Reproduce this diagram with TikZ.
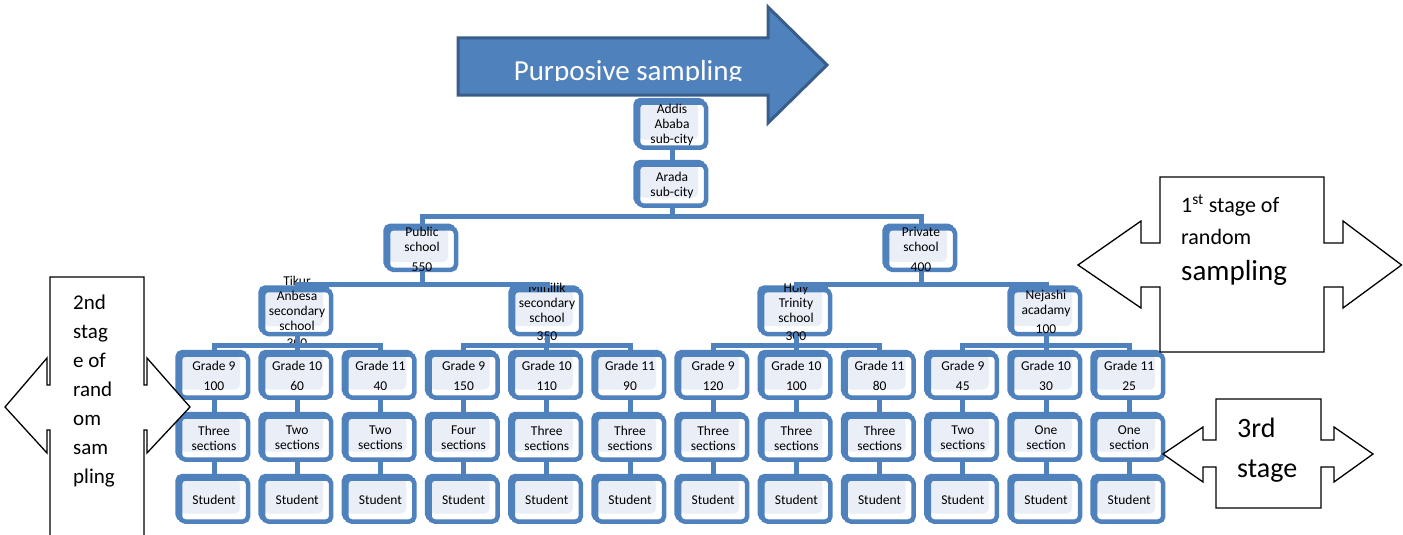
\documentclass[tikz,border=0pt]{standalone}
\usepackage{fontspec}
\setmainfont{Carlito}
\usetikzlibrary{positioning}
\definecolor{boxblue}{HTML}{4F81BD}
\definecolor{boxfill}{HTML}{E9EEF7}
\definecolor{arrowedge}{HTML}{385D8A}

\begin{document}
\begin{tikzpicture}[x=1pt, y=-1pt, node distance=14.5pt,
  unit/.style={draw=boxblue, line width=4.5pt, rounded corners=5pt, fill=white,
    minimum width=68pt, minimum height=43pt, inner sep=0pt,
    preaction={draw=boxblue, fill=boxblue, transform canvas={shift={(-2.5pt,2.5pt)}}},
    path picture={\fill[boxfill] (path picture bounding box.north west)
      rectangle ([xshift=-8pt,yshift=8pt]path picture bounding box.south east);}},
  lbl/.style={font=\fontsize{13.5}{15}\selectfont, align=center, inner sep=0pt},
  link/.style={draw=boxblue, line width=5pt},
  callout/.style={draw=black, line width=1.3pt, fill=white, line join=miter},
  stagetxt/.style={inner sep=0pt, anchor=base west}]
\useasboundingbox (0,0) rectangle (1403,535);

% purposive sampling arrow
\draw[fill=boxblue, draw=arrowedge, line width=3pt, line join=miter]
  (458,38) -- (768,38) -- (768,7) -- (827,65) -- (768,123) -- (768,95) -- (458,95) -- cycle;
\begin{scope}
  \clip (458,38) rectangle (768,80.5);
  \node[inner sep=0pt, anchor=base, text=white, font=\fontsize{29}{32}\selectfont] (purpose) at (628,80.5) {Purposive sampling};
\end{scope}

% top of the tree
\node[unit, minimum height=45pt, label={[lbl]center:Addis\\Ababa\\sub-city}] (addis) at (672,125) {};
\node[unit, minimum height=41pt, label={[lbl]center:Arada\\sub-city}] (arada) at (672,185) {};
\node[unit, minimum height=41.5pt, label={[lbl]center:Public\\school\\[5pt]550}] (public) at (422,249) {};
\node[unit, minimum height=41.5pt, label={[lbl]center:Private\\school\\[5pt]400}] (private) at (921,249) {};

% schools
\node[unit, minimum height=44pt, label={[lbl]center:Tikur\\Anbesa\\secondary\\school\\[2pt]300}] (tikur) at (297,312) {};
\node[unit, minimum height=44pt, label={[lbl]center:Minilik\\secondary\\school\\[3pt]350}] (minilik) at (547,312) {};
\node[unit, minimum height=44pt, label={[lbl]center:Holy\\Trinity\\school\\[3pt]300}] (holy) at (796,312) {};
\node[unit, minimum height=44pt, label={[lbl]center:Nejashi\\acadamy\\[4pt]100}] (nejashi) at (1046,312) {};

% grades, sections, students
\foreach \i/\gr/\num/\sec in {1/9/100/Three\\sections, 2/10/60/Two\\sections,
    3/11/40/Two\\sections, 4/9/150/Four\\sections, 5/10/110/Three\\sections,
    6/11/90/Three\\sections, 7/9/120/Three\\sections, 8/10/100/Three\\sections,
    9/11/80/Three\\sections, 10/9/45/Two\\sections, 11/10/30/One\\section,
    12/11/25/One\\section}{
  \pgfmathsetmacro{\cx}{214+83.2*(\i-1)}
  \node[unit, label={[lbl]center:Grade \gr\\[5pt]\num}] (g\i) at (\cx,376) {};
  \node[unit, below=of g\i, label={[lbl]center:\sec}] (s\i) {};
  \node[unit, below=of s\i, label={[lbl]center:Student}] (t\i) {};
  \draw[link] (g\i) -- (s\i);
  \draw[link] (s\i) -- (t\i);
}

% connectors
\draw[link] (addis) -- (arada);
\draw[link] (arada.south) -- ++(0,9) -| (public.north);
\draw[link] (arada.south) -- ++(0,9) -| (private.north);
\draw[link] (public.south) -- ++(0,12) -| (tikur.north);
\draw[link] (public.south) -- ++(0,12) -| (minilik.north);
\draw[link] (private.south) -- ++(0,12) -| (holy.north);
\draw[link] (private.south) -- ++(0,12) -| (nejashi.north);
\foreach \sch/\a/\b/\c in {tikur/1/2/3, minilik/4/5/6, holy/7/8/9, nejashi/10/11/12}{
  \draw[link] (\sch.south) -- ++(0,9) -| (g\a.north);
  \draw[link] (\sch.south) -- ++(0,9) -| (g\b.north);
  \draw[link] (\sch.south) -- ++(0,9) -| (g\c.north);
}

% stage callouts
\draw[callout] (1160,177) -- (1324,177) -- (1324,243) -- (1343,243) -- (1343,221)
  -- (1401.5,265) -- (1343,308) -- (1343,287) -- (1324,287) -- (1324,352)
  -- (1160,352) -- (1160,287) -- (1141,287) -- (1141,308) -- (1078,265)
  -- (1141,221) -- (1141,243) -- (1160,243) -- cycle;
\node[stagetxt, font=\fontsize{22}{26}\selectfont] (first) at (1181,212) {1\textsuperscript{st} stage of};
\node[stagetxt, font=\fontsize{22}{26}\selectfont] (firstb) at (1181,244) {random};
\node[stagetxt, font=\fontsize{29}{32}\selectfont] (firstc) at (1181,280) {sampling};

\draw[callout] (50,545) -- (50,430) -- (47,430) -- (47,453) -- (5,407) -- (47,358)
  -- (47,385) -- (50,385) -- (50,277) -- (144,277) -- (144,385) -- (147,385)
  -- (147,358) -- (190,407) -- (147,453) -- (147,430) -- (144,430) -- (144,545);
\foreach \txt [count=\k] in {2nd, stag, e of, rand, om, sam, pling}
  \node[stagetxt, font=\fontsize{21}{25}\selectfont] (second\k) at (73,309+29*\k-29) {\txt};

\draw[callout] (1216,399) -- (1321,399) -- (1321,440) -- (1334,440) -- (1334,427)
  -- (1373,454) -- (1334,482) -- (1334,467) -- (1321,467) -- (1321,508)
  -- (1216,508) -- (1216,467) -- (1203,467) -- (1203,482) -- (1163,454)
  -- (1203,427) -- (1203,440) -- (1216,440) -- cycle;
\node[stagetxt, font=\fontsize{28}{32}\selectfont] (third) at (1237,437) {3rd};
\node[stagetxt, font=\fontsize{28}{32}\selectfont] (thirdb) at (1237,477) {stage};
\end{tikzpicture}
\end{document}
